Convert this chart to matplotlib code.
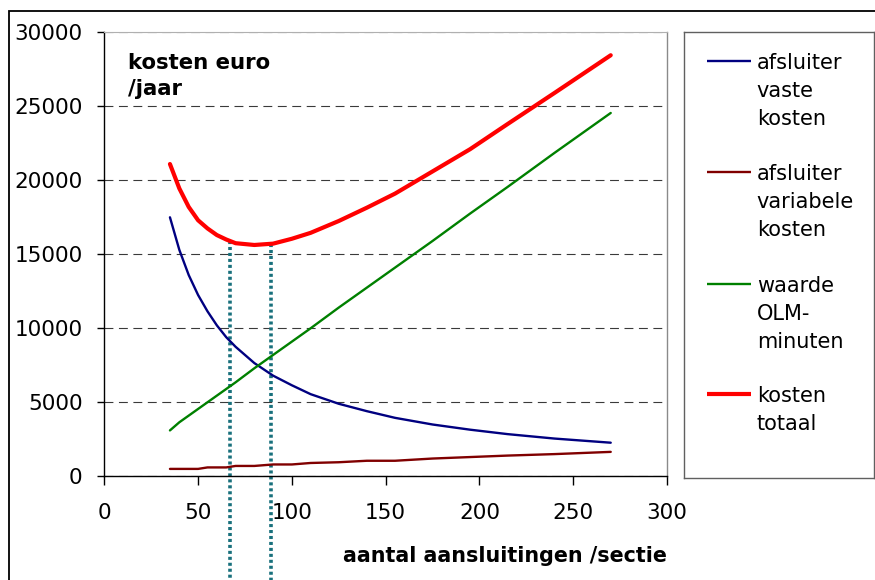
import matplotlib
matplotlib.use("Agg")
import matplotlib.pyplot as plt
from matplotlib.patches import Rectangle

# Yearly costs (euro) per number of connections in a section
connections = [35, 40, 45, 50, 55, 60, 65, 70, 80, 90, 100, 110, 125, 140, 155, 175, 195, 215, 240, 270]
fixed_cost = [17500, 15300, 13600, 12250, 11150, 10200, 9400, 8750, 7650, 6800,
              6150, 5550, 4900, 4400, 3950, 3500, 3150, 2850, 2550, 2270]
variable_cost = [500, 500, 500, 500, 600, 600, 600, 700, 700, 800,
                 800, 900, 950, 1050, 1050, 1200, 1300, 1400, 1500, 1650]
olm_value = [3100, 3650, 4100, 4550, 5000, 5450, 5900, 6350, 7300, 8200,
             9100, 10000, 11400, 12750, 14100, 15900, 17750, 19550, 21850, 24550]
total_cost = [21100, 19450, 18200, 17300, 16750, 16300, 16000, 15750, 15630, 15720,
              16050, 16450, 17250, 18150, 19100, 20600, 22100, 23800, 25900, 28450]

# Optimum range markers (x position, total cost at that point)
marker_x = [67, 89]
marker_top = [15930, 15720]

series_labels = ["afsluiter\nvaste\nkosten",
                 "afsluiter\nvariabele\nkosten",
                 "waarde\nOLM-\nminuten",
                 "kosten\ntotaal"]
series_colors = ["#000080", "#800000", "#008000", "#FF0000"]
series_widths = [1.7, 1.7, 1.7, 3.0]

y_ticks = [0, 5000, 10000, 15000, 20000, 25000, 30000]
x_ticks = [0, 50, 100, 150, 200, 250, 300]

W, H = 875, 580


def fx(px):
    return px / W


def fy(py):
    return 1 - py / H


fig = plt.figure(figsize=(W / 100, H / 100), dpi=100)
fig.patch.set_facecolor("white")

# outer chart frame
fig.patches.append(Rectangle((fx(9), -0.1), 1.2, fy(11) + 0.1, transform=fig.transFigure,
                             fill=False, edgecolor="black", linewidth=1.3))

left, right, top, bottom = 104.3, 667.0, 32.3, 476.3
ax = fig.add_axes([fx(left), fy(bottom), fx(right) - fx(left), fy(top) - fy(bottom)])

ax.set_xlim(0, 300)
ax.set_ylim(0, 30000)
ax.set_xticks(x_ticks)
ax.set_yticks(y_ticks)
ax.set_xticklabels([str(v) for v in x_ticks])
ax.set_yticklabels([str(v) for v in y_ticks])

ax.yaxis.grid(True, linestyle=(0, (8, 5)), color="#3a3a3a", linewidth=0.8)
ax.set_axisbelow(True)

for side in ("left", "bottom"):
    ax.spines[side].set_color("black")
    ax.spines[side].set_linewidth(1.0)
ax.spines["right"].set_color("#8a8a8a")
ax.spines["right"].set_linewidth(1.0)
ax.spines["top"].set_color("#b0b0b0")
ax.spines["top"].set_linewidth(0.8)

ax.tick_params(axis="y", direction="out", length=5.2, width=1.0, pad=10.5,
               labelsize=15.5, colors="black")
ax.tick_params(axis="x", direction="out", length=6.5, width=1.0, pad=12.5,
               labelsize=15.5, colors="black")

# vertical dotted markers, running down past the axis
for xm, ym in zip(marker_x, marker_top):
    ax.plot([xm, xm], [ym, -9000], color="#18707c", linewidth=2.6,
            linestyle=(0, (0.85, 0.8)), dash_capstyle="butt", clip_on=False, zorder=2)

series = [fixed_cost, variable_cost, olm_value, total_cost]
for vals, lab, col, lw in zip(series, series_labels, series_colors, series_widths):
    ax.plot(connections, vals, color=col, linewidth=lw, label=lab.replace("\n", " "),
            solid_capstyle="round", solid_joinstyle="round", zorder=3)

# multi-line texts are anchored on the baseline of their last line
ax.text((128 - left) / (right - left), (bottom - 95) / (bottom - top),
        "kosten euro\n/jaar", transform=ax.transAxes, ha="left", va="baseline",
        fontsize=15.3, fontweight="bold", linespacing=1.40)

ax.set_xlabel("aantal aansluitingen /sectie", fontsize=14.9, fontweight="bold",
              va="baseline", ha="center")
ax.xaxis.set_label_coords((505 - left) / (right - left), (bottom - 561.7) / (bottom - top))

# legend panel
lg_l, lg_r, lg_t, lg_b = 684.3, 874.3, 32.3, 478.0
lax = fig.add_axes([fx(lg_l), fy(lg_b), fx(lg_r) - fx(lg_l), fy(lg_t) - fy(lg_b)])
lax.set_xlim(lg_l, lg_r)
lax.set_ylim(lg_b, lg_t)
lax.set_xticks([])
lax.set_yticks([])
for sp in lax.spines.values():
    sp.set_color("#606060")
    sp.set_linewidth(1.0)

line_step = 28.0
entry_baselines = [69, 180, 291.7, 401.7]
for base, lab, col, lw in zip(entry_baselines, series_labels, series_colors, series_widths):
    n_lines = lab.count("\n") + 1
    lax.plot([707.3, 750.7], [base - 7.7, base - 7.7], color=col, linewidth=lw,
             solid_capstyle="butt")
    lax.text(756.7, base + (n_lines - 1) * line_step, lab, ha="left", va="baseline",
             fontsize=15, linespacing=1.49)

fig.savefig("out.png", dpi=100, facecolor="white")
